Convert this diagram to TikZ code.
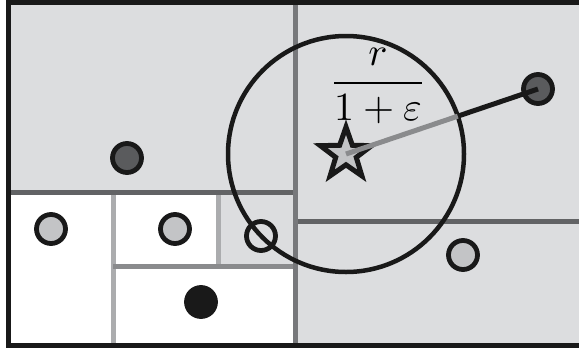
\documentclass[tikz,border=0pt]{standalone}
\usepackage{amsmath}
\usetikzlibrary{calc,shapes.geometric}

\definecolor{cellgray}{HTML}{DCDDDF}
\definecolor{darkline}{HTML}{626365}
\definecolor{midline}{HTML}{77787B}
\definecolor{lightline}{HTML}{ABACAE}
\definecolor{paleline}{HTML}{8A8B8D}
\definecolor{ptdark}{HTML}{5A5B5D}
\definecolor{ptlight}{HTML}{C3C4C6}

\tikzset{
  pt/.style={circle, draw=black!90, line width=4.8pt, minimum size=29pt, inner sep=0pt},
  split/.style={line width=5pt}
}

\begin{document}
\begin{tikzpicture}[x=1pt, y=-1pt]
  \useasboundingbox (0,0) rectangle (579,354);

  % cells
  \fill[cellgray] (8,2) rectangle (579,345);
  \fill[white] (8,192) rectangle (113,345);
  \fill[white] (113,192) rectangle (218,266);
  \fill[white] (113,266) rectangle (295,345);

  % splitting lines
  \draw[split, lightline] (113,192) -- (113,345);
  \draw[split, lightline] (218,192) -- (218,266);
  \draw[split, paleline] (113,266) -- (295,266);
  \draw[split, darkline] (8,192) -- (295,192);
  \draw[split, darkline] (295,221) -- (579,221);
  \draw[split, midline] (295,0) -- (295,345);

  % data points
  \node[pt, fill=ptdark]  (a) at (127,158) {};
  \node[pt, fill=ptlight] (b) at (51,229) {};
  \node[pt, fill=ptlight] (c) at (175,229) {};
  \node[pt]               (d) at (261,236) {};
  \node[pt, fill=black!90] (e) at (201,302) {};
  \node[pt, fill=ptdark]  (f) at (538,89) {};
  \node[pt, fill=ptlight] (g) at (463,255) {};

  % query point and ball
  \coordinate (q) at (346,154);
  \draw[line width=4.5pt, black!90] (q) circle (118);

  % query star
  \node[star, star points=5, star point ratio=2.5, minimum size=54pt, inner sep=0pt,
        draw=black!90, line width=5pt, fill=ptlight] (s) at (q) {};

  % distance to nearest point
  \coordinate (rim) at ($(q)!118pt!(f)$);
  \draw[line width=5pt, black!90] (rim) -- (f.center);
  \draw[line width=5pt, paleline] (s.center) -- (rim);

  % radius label
  \node[scale=4, inner sep=0pt] (lbl) at (378,86) {$\dfrac{r}{1+\varepsilon}$};

  % frame
  \draw[line width=5pt, black!90] (579,2) -- (8,2) -- (8,345) -- (579,345);
\end{tikzpicture}
\end{document}
